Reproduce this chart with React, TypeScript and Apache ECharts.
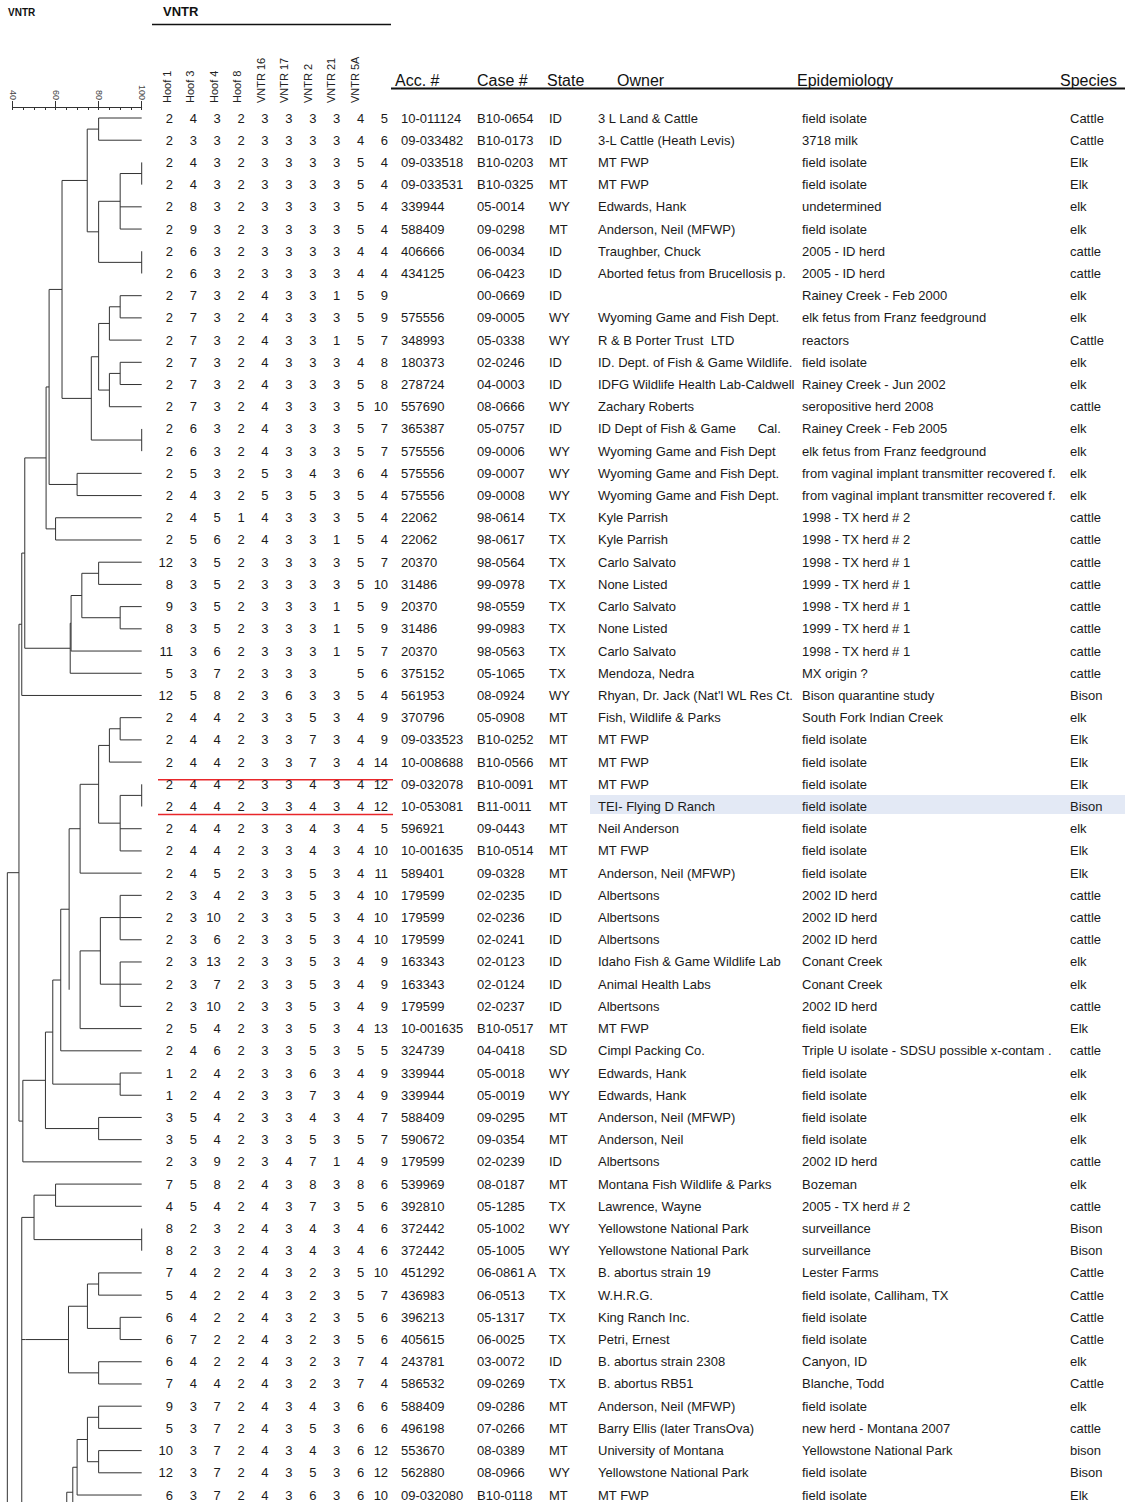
import React, { useEffect, useRef } from "react";
import * as echarts from "echarts";

// ---------------- DATA ----------------
const locusNames = ["Hoof 1", "Hoof 3", "Hoof 4", "Hoof 8", "VNTR 16", "VNTR 17", "VNTR 2", "VNTR 21", "VNTR 5A"];
const tableHeaders = ["Acc. #", "Case #", "State", "Owner", "Epidemiology", "Species"];
const similarityTicks = [40, 60, 80, 100];

const vntrProfiles: (number | null)[][] = [
  [2, 4, 3, 2, 3, 3, 3, 3, 4, 5],
  [2, 3, 3, 2, 3, 3, 3, 3, 4, 6],
  [2, 4, 3, 2, 3, 3, 3, 3, 5, 4],
  [2, 4, 3, 2, 3, 3, 3, 3, 5, 4],
  [2, 8, 3, 2, 3, 3, 3, 3, 5, 4],
  [2, 9, 3, 2, 3, 3, 3, 3, 5, 4],
  [2, 6, 3, 2, 3, 3, 3, 3, 4, 4],
  [2, 6, 3, 2, 3, 3, 3, 3, 4, 4],
  [2, 7, 3, 2, 4, 3, 3, 1, 5, 9],
  [2, 7, 3, 2, 4, 3, 3, 3, 5, 9],
  [2, 7, 3, 2, 4, 3, 3, 1, 5, 7],
  [2, 7, 3, 2, 4, 3, 3, 3, 4, 8],
  [2, 7, 3, 2, 4, 3, 3, 3, 5, 8],
  [2, 7, 3, 2, 4, 3, 3, 3, 5, 10],
  [2, 6, 3, 2, 4, 3, 3, 3, 5, 7],
  [2, 6, 3, 2, 4, 3, 3, 3, 5, 7],
  [2, 5, 3, 2, 5, 3, 4, 3, 6, 4],
  [2, 4, 3, 2, 5, 3, 5, 3, 5, 4],
  [2, 4, 5, 1, 4, 3, 3, 3, 5, 4],
  [2, 5, 6, 2, 4, 3, 3, 1, 5, 4],
  [12, 3, 5, 2, 3, 3, 3, 3, 5, 7],
  [8, 3, 5, 2, 3, 3, 3, 3, 5, 10],
  [9, 3, 5, 2, 3, 3, 3, 1, 5, 9],
  [8, 3, 5, 2, 3, 3, 3, 1, 5, 9],
  [11, 3, 6, 2, 3, 3, 3, 1, 5, 7],
  [5, 3, 7, 2, 3, 3, 3, null, 5, 6],
  [12, 5, 8, 2, 3, 6, 3, 3, 5, 4],
  [2, 4, 4, 2, 3, 3, 5, 3, 4, 9],
  [2, 4, 4, 2, 3, 3, 7, 3, 4, 9],
  [2, 4, 4, 2, 3, 3, 7, 3, 4, 14],
  [2, 4, 4, 2, 3, 3, 4, 3, 4, 12],
  [2, 4, 4, 2, 3, 3, 4, 3, 4, 12],
  [2, 4, 4, 2, 3, 3, 4, 3, 4, 5],
  [2, 4, 4, 2, 3, 3, 4, 3, 4, 10],
  [2, 4, 5, 2, 3, 3, 5, 3, 4, 11],
  [2, 3, 4, 2, 3, 3, 5, 3, 4, 10],
  [2, 3, 10, 2, 3, 3, 5, 3, 4, 10],
  [2, 3, 6, 2, 3, 3, 5, 3, 4, 10],
  [2, 3, 13, 2, 3, 3, 5, 3, 4, 9],
  [2, 3, 7, 2, 3, 3, 5, 3, 4, 9],
  [2, 3, 10, 2, 3, 3, 5, 3, 4, 9],
  [2, 5, 4, 2, 3, 3, 5, 3, 4, 13],
  [2, 4, 6, 2, 3, 3, 5, 3, 5, 5],
  [1, 2, 4, 2, 3, 3, 6, 3, 4, 9],
  [1, 2, 4, 2, 3, 3, 7, 3, 4, 9],
  [3, 5, 4, 2, 3, 3, 4, 3, 4, 7],
  [3, 5, 4, 2, 3, 3, 5, 3, 5, 7],
  [2, 3, 9, 2, 3, 4, 7, 1, 4, 9],
  [7, 5, 8, 2, 4, 3, 8, 3, 8, 6],
  [4, 5, 4, 2, 4, 3, 7, 3, 5, 6],
  [8, 2, 3, 2, 4, 3, 4, 3, 4, 6],
  [8, 2, 3, 2, 4, 3, 4, 3, 4, 6],
  [7, 4, 2, 2, 4, 3, 2, 3, 5, 10],
  [5, 4, 2, 2, 4, 3, 2, 3, 5, 7],
  [6, 4, 2, 2, 4, 3, 2, 3, 5, 6],
  [6, 7, 2, 2, 4, 3, 2, 3, 5, 6],
  [6, 4, 2, 2, 4, 3, 2, 3, 7, 4],
  [7, 4, 4, 2, 4, 3, 2, 3, 7, 4],
  [9, 3, 7, 2, 4, 3, 4, 3, 6, 6],
  [5, 3, 7, 2, 4, 3, 5, 3, 6, 6],
  [10, 3, 7, 2, 4, 3, 4, 3, 6, 12],
  [12, 3, 7, 2, 4, 3, 5, 3, 6, 12],
  [6, 3, 7, 2, 4, 3, 6, 3, 6, 10],
];

const accessionNumbers = [
  "10-011124", "09-033482", "09-033518", "09-033531", "339944", "588409", "406666", "434125", "", "575556",
  "348993", "180373", "278724", "557690", "365387", "575556", "575556", "575556", "22062", "22062",
  "20370", "31486", "20370", "31486", "20370", "375152", "561953", "370796", "09-033523", "10-008688",
  "09-032078", "10-053081", "596921", "10-001635", "589401", "179599", "179599", "179599", "163343", "163343",
  "179599", "10-001635", "324739", "339944", "339944", "588409", "590672", "179599", "539969", "392810",
  "372442", "372442", "451292", "436983", "396213", "405615", "243781", "586532", "588409", "496198",
  "553670", "562880", "09-032080",
];

const caseNumbers = [
  "B10-0654", "B10-0173", "B10-0203", "B10-0325", "05-0014", "09-0298", "06-0034", "06-0423", "00-0669", "09-0005",
  "05-0338", "02-0246", "04-0003", "08-0666", "05-0757", "09-0006", "09-0007", "09-0008", "98-0614", "98-0617",
  "98-0564", "99-0978", "98-0559", "99-0983", "98-0563", "05-1065", "08-0924", "05-0908", "B10-0252", "B10-0566",
  "B10-0091", "B11-0011", "09-0443", "B10-0514", "09-0328", "02-0235", "02-0236", "02-0241", "02-0123", "02-0124",
  "02-0237", "B10-0517", "04-0418", "05-0018", "05-0019", "09-0295", "09-0354", "02-0239", "08-0187", "05-1285",
  "05-1002", "05-1005", "06-0861 A", "06-0513", "05-1317", "06-0025", "03-0072", "09-0269", "09-0286", "07-0266",
  "08-0389", "08-0966", "B10-0118",
];

const states = [
  "ID", "ID", "MT", "MT", "WY", "MT", "ID", "ID", "ID", "WY",
  "WY", "ID", "ID", "WY", "ID", "WY", "WY", "WY", "TX", "TX",
  "TX", "TX", "TX", "TX", "TX", "TX", "WY", "MT", "MT", "MT",
  "MT", "MT", "MT", "MT", "MT", "ID", "ID", "ID", "ID", "ID",
  "ID", "MT", "SD", "WY", "WY", "MT", "MT", "ID", "MT", "TX",
  "WY", "WY", "TX", "TX", "TX", "TX", "ID", "TX", "MT", "MT",
  "MT", "WY", "MT",
];

const owners = [
  "3 L Land & Cattle", "3-L Cattle (Heath Levis)", "MT FWP", "MT FWP", "Edwards, Hank",
  "Anderson, Neil (MFWP)", "Traughber, Chuck", "Aborted fetus from Brucellosis p.", "", "Wyoming Game and Fish Dept.",
  "R & B Porter Trust  LTD", "ID. Dept. of Fish & Game Wildlife.", "IDFG Wildlife Health Lab-Caldwell", "Zachary Roberts", "ID Dept of Fish & Game      Cal.",
  "Wyoming Game and Fish Dept", "Wyoming Game and Fish Dept.", "Wyoming Game and Fish Dept.", "Kyle Parrish", "Kyle Parrish",
  "Carlo Salvato", "None Listed", "Carlo Salvato", "None Listed", "Carlo Salvato",
  "Mendoza, Nedra", "Rhyan, Dr. Jack (Nat'l WL Res Ct.", "Fish, Wildlife & Parks", "MT FWP", "MT FWP",
  "MT FWP", "TEI- Flying D Ranch", "Neil Anderson", "MT FWP", "Anderson, Neil (MFWP)",
  "Albertsons", "Albertsons", "Albertsons", "Idaho Fish & Game Wildlife Lab", "Animal Health Labs",
  "Albertsons", "MT FWP", "Cimpl Packing Co.", "Edwards, Hank", "Edwards, Hank",
  "Anderson, Neil (MFWP)", "Anderson, Neil", "Albertsons", "Montana Fish Wildlife & Parks", "Lawrence, Wayne",
  "Yellowstone National Park", "Yellowstone National Park", "B. abortus strain 19", "W.H.R.G.", "King Ranch Inc.",
  "Petri, Ernest", "B. abortus strain 2308", "B. abortus RB51", "Anderson, Neil (MFWP)", "Barry Ellis (later TransOva)",
  "University of Montana", "Yellowstone National Park", "MT FWP",
];

const epidemiology = [
  "field isolate", "3718 milk", "field isolate", "field isolate", "undetermined",
  "field isolate", "2005 - ID herd", "2005 - ID herd", "Rainey Creek - Feb 2000", "elk fetus from Franz feedground",
  "reactors", "field isolate", "Rainey Creek - Jun 2002", "seropositive herd 2008", "Rainey Creek - Feb 2005",
  "elk fetus from Franz feedground", "from vaginal implant transmitter recovered f.", "from vaginal implant transmitter recovered f.", "1998 - TX herd # 2", "1998 - TX herd # 2",
  "1998 - TX herd # 1", "1999 - TX herd # 1", "1998 - TX herd # 1", "1999 - TX herd # 1", "1998 - TX herd # 1",
  "MX origin ?", "Bison quarantine study", "South Fork Indian Creek", "field isolate", "field isolate",
  "field isolate", "field isolate", "field isolate", "field isolate", "field isolate",
  "2002 ID herd", "2002 ID herd", "2002 ID herd", "Conant Creek", "Conant Creek",
  "2002 ID herd", "field isolate", "Triple U isolate - SDSU possible x-contam .", "field isolate", "field isolate",
  "field isolate", "field isolate", "2002 ID herd", "Bozeman", "2005 - TX herd # 2",
  "surveillance", "surveillance", "Lester Farms", "field isolate, Calliham, TX", "field isolate",
  "field isolate", "Canyon, ID", "Blanche, Todd", "field isolate", "new herd - Montana 2007",
  "Yellowstone National Park", "field isolate", "field isolate",
];

const species = [
  "Cattle", "Cattle", "Elk", "Elk", "elk", "elk", "cattle", "cattle", "elk", "elk",
  "Cattle", "elk", "elk", "cattle", "elk", "elk", "elk", "elk", "cattle", "cattle",
  "cattle", "cattle", "cattle", "cattle", "cattle", "cattle", "Bison", "elk", "Elk", "Elk",
  "Elk", "Bison", "elk", "Elk", "Elk", "cattle", "cattle", "cattle", "elk", "elk",
  "cattle", "Elk", "cattle", "elk", "elk", "elk", "elk", "cattle", "elk", "cattle",
  "Bison", "Bison", "Cattle", "Cattle", "Cattle", "Cattle", "elk", "Cattle", "elk", "cattle",
  "bison", "Bison", "Elk",
];

// Dendrogram: "(child,child)similarity"; leaves are row numbers. Rows beyond 63
// belong to the part of the tree that continues below the visible page.
const clusterIdahoElk = "(((1,2)80,(((3,4)100,5,6)90,(7,8)100)80)74.7,((((9,10)90,11)85,((12,13)90,14)85)80,(15,16)100)76.6)63";
const clusterTexas = "((((21,22)80,(23,24)90)72.2,25)67.2,26)66.8";
const clusterUpper = `((((${clusterIdahoElk},(17,18)70)57,(19,20)60)55.6,${clusterTexas})45.7,27)44.3`;
const clusterMontana = "((((((((28,29)90,30)85,((31,32)100,33,34)90)80,35)71.4,((((36,37,38)90,(39,40,41)90)80.8,42)71.4))66.3,43)62.4,(44,45)90)58.7,(46,47)80)55.3";
const clusterMiddle = `(${clusterMontana},48)44.8`;
const dendrogramTop = `((${clusterUpper},${clusterMiddle})43,90)37.6`;
const dendrogramBison = "((((49,50)60,(51,52)100)50,((((53,54)80,(55,56)90)74.8,(57,58)80)66)46,75)44.3";
const dendrogramBottom = "((((((59,60)80,(61,62)80)74.8,63)70,64)68,68)65.2";

// ---------------- LAYOUT ----------------
const W = 1125;
const H = 1502;
const GRID_TOP = 118;
const ROW_STEP = 22.21;
const ROWS = 63;
const rowY = (r: number) => GRID_TOP + (r - 1) * ROW_STEP;
const NUM_RIGHT0 = 173;
const NUM_STEP = 23.9;
const textColX = [401, 477, 549, 598, 802, 1070];
const FONT = "'Liberation Sans', Arial, sans-serif";

type TNode = { h: number; children: TNode[]; leaf?: number; y: number };

function parseTree(s: string): TNode {
  let i = 0;
  const num = () => {
    const j = i;
    while (i < s.length && /[0-9.]/.test(s[i])) i++;
    return parseFloat(s.slice(j, i));
  };
  const node = (): TNode => {
    if (s[i] === "(") {
      i++;
      const children = [node()];
      while (s[i] === ",") {
        i++;
        children.push(node());
      }
      i++;
      const h = num();
      const ys = children.map((c) => c.y);
      return { h, children, y: (Math.min(...ys) + Math.max(...ys)) / 2 };
    }
    const leaf = num();
    return { h: 100, children: [], leaf, y: leaf };
  };
  return node();
}

function segmentsOf(root: TNode, out: number[][]) {
  if (!root.children.length) return out;
  const ys = root.children.map((c) => c.y);
  out.push([root.h, Math.min(...ys), root.h, Math.max(...ys)]);
  root.children.forEach((c) => {
    out.push([c.h, c.y, root.h, c.y]);
    segmentsOf(c, out);
  });
  return out;
}

export default function App() {
  const ref = useRef<HTMLDivElement>(null);

  useEffect(() => {
    if (!ref.current) return;
    const chart = echarts.init(ref.current, null, { renderer: "svg" });

    const segs: number[][] = [];
    [dendrogramTop, dendrogramBison, dendrogramBottom].forEach((t) => segmentsOf(parseTree(t), segs));

    const cellData: number[][] = [];
    for (let r = 1; r <= ROWS; r++) {
      for (let c = 0; c < 16; c++) cellData.push([c, r]);
    }

    const cellText = (c: number, r: number): string => {
      const i = r - 1;
      if (c < 10) {
        const v = vntrProfiles[i][c];
        return v == null ? "" : String(v);
      }
      const cols = [accessionNumbers, caseNumbers, states, owners, epidemiology, species];
      return cols[c - 10][i] || "";
    };

    const graphics: any[] = [];
    // highlight of selected isolate
    graphics.push({
      type: "rect",
      z: 0,
      shape: { x: 590, y: rowY(32) - 11.5, width: W - 590, height: 19 },
      style: { fill: "#e3e9f5" },
    });
    graphics.push({
      type: "text", x: 8, y: 12,
      style: { text: "VNTR", font: `bold 10px ${FONT}`, fill: "#111", textAlign: "left", textVerticalAlign: "middle", align: "left", verticalAlign: "middle" },
    });
    graphics.push({
      type: "text", x: 163, y: 11,
      style: { text: "VNTR", font: `bold 13px ${FONT}`, fill: "#111", textAlign: "left", textVerticalAlign: "middle", align: "left", verticalAlign: "middle" },
    });
    graphics.push({ type: "line", shape: { x1: 152, y1: 24.5, x2: 391, y2: 24.5 }, style: { stroke: "#111", lineWidth: 1.5 } });
    locusNames.forEach((name, k) => {
      graphics.push({
        type: "text",
        x: 166.7 + k * 23.5,
        y: 103,
        rotation: Math.PI / 2,
        style: { text: name, font: `11px ${FONT}`, fill: "#222", textAlign: "left", textVerticalAlign: "middle", align: "left", verticalAlign: "middle" },
      });
    });
    const headerX = [395, 477, 547, 617, 797, 1060];
    tableHeaders.forEach((t, k) => {
      graphics.push({
        type: "text", x: headerX[k], y: 80,
        style: { text: t, font: `16px 'Liberation Sans Narrow', 'Arial Narrow', ${FONT}`, fill: "#111", textAlign: "left", textVerticalAlign: "middle", align: "left", verticalAlign: "middle" },
      });
    });
    graphics.push({ type: "line", shape: { x1: 391, y1: 88.5, x2: W, y2: 88.5 }, style: { stroke: "#111", lineWidth: 2 } });
    graphics.push({ type: "line", shape: { x1: 158, y1: rowY(31) - 4.5, x2: 393, y2: rowY(31) - 4.5 }, style: { stroke: "#e8262a", lineWidth: 1.5 } });
    graphics.push({ type: "line", shape: { x1: 158, y1: rowY(32) + 8, x2: 393, y2: rowY(32) + 8 }, style: { stroke: "#e8262a", lineWidth: 1.5 } });

    chart.setOption({
      animation: false,
      backgroundColor: "#ffffff",
      grid: [{ left: 12.5, top: GRID_TOP, width: 129.2, height: (ROWS - 1) * ROW_STEP, containLabel: false }],
      xAxis: [
        {
          gridIndex: 0, type: "value", min: 40, max: 100, interval: 20, position: "top", offset: 11,
          axisLine: { show: true, lineStyle: { color: "#333", width: 1 } },
          axisTick: { show: true, inside: false, length: 6, lineStyle: { color: "#333" } },
          axisLabel: {
            show: true, rotate: 90, fontSize: 9, color: "#444", margin: 7, fontFamily: FONT,
            formatter: (v: number) => (similarityTicks.includes(v) ? String(v) : ""),
          },
          splitLine: { show: false },
        },
        {
          gridIndex: 0, type: "value", min: 40, max: 100, interval: 5, position: "top", offset: 11,
          axisLine: { show: false },
          axisTick: { show: true, inside: true, length: 3, lineStyle: { color: "#333" } },
          axisLabel: { show: false },
          splitLine: { show: false },
        },
      ],
      yAxis: [{ gridIndex: 0, type: "value", inverse: true, min: 1, max: ROWS, show: false }],
      graphic: { elements: graphics },
      series: [
        {
          type: "custom",
          name: "dendrogram",
          xAxisIndex: 0,
          yAxisIndex: 0,
          clip: false,
          silent: true,
          z: 3,
          encode: { x: [0, 2], y: [1, 3] },
          data: segs,
          renderItem: (params: any, api: any) => {
            const p1 = api.coord([api.value(0), api.value(1)]);
            const p2 = api.coord([api.value(2), api.value(3)]);
            return {
              type: "line",
              shape: { x1: p1[0], y1: p1[1], x2: p2[0], y2: p2[1] },
              style: { stroke: "#333", lineWidth: 1 },
            };
          },
        },
        {
          type: "custom",
          name: "table",
          xAxisIndex: 0,
          yAxisIndex: 0,
          clip: false,
          silent: true,
          z: 4,
          encode: { x: 0, y: 1 },
          data: cellData,
          renderItem: (params: any, api: any) => {
            const c = api.value(0);
            const r = api.value(1);
            const text = cellText(c, r);
            const y = api.coord([100, r])[1];
            const isNum = c < 10;
            const x = isNum ? NUM_RIGHT0 + c * NUM_STEP : textColX[c - 10];
            return {
              type: "text",
              x,
              y,
              style: {
                text,
                font: `13px ${FONT}`,
                fill: "#1a1a1a",
                textAlign: isNum ? "right" : "left",
                textVerticalAlign: "middle",
                align: isNum ? "right" : "left",
                verticalAlign: "middle",
              },
            };
          },
        },
      ],
    });

    return () => chart.dispose();
  }, []);

  return <div ref={ref} style={{ position: "absolute", left: 0, top: 0, width: W, height: H }} />;
}
